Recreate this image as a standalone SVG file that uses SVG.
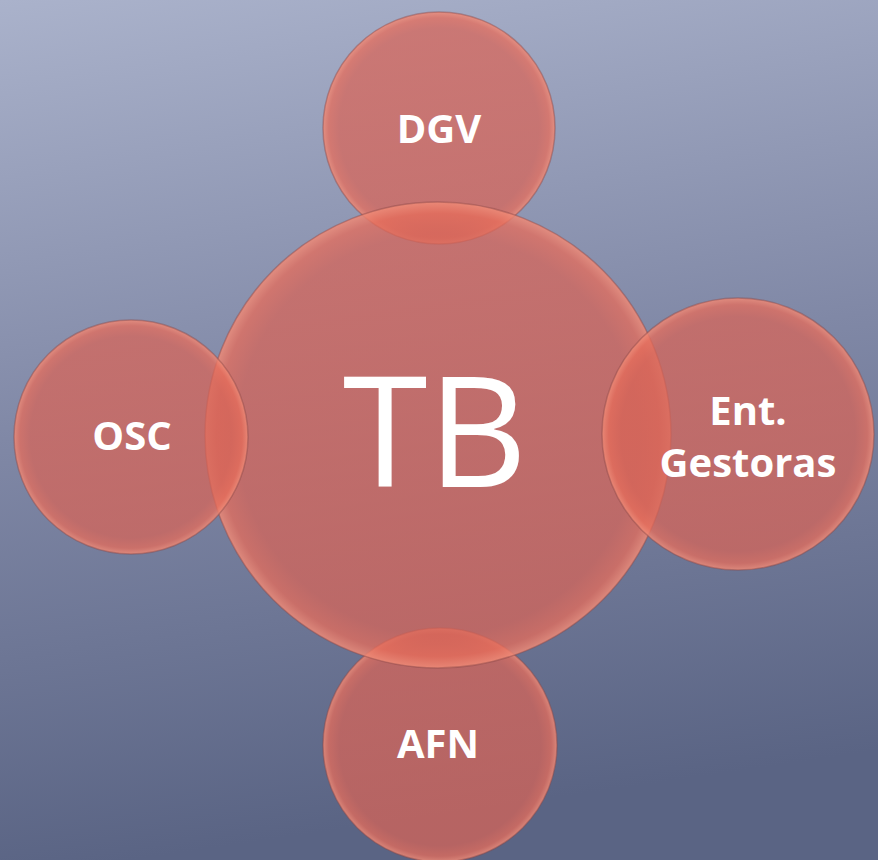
<svg xmlns="http://www.w3.org/2000/svg" width="878" height="860" viewBox="0 0 878 860">
<defs>
<linearGradient id="bg" x1="0" y1="0" x2="0.15" y2="1">
<stop offset="0" stop-color="#aab2cb"/>
<stop offset="0.5" stop-color="#8088a6"/>
<stop offset="1" stop-color="#5a6484"/>
</linearGradient>
<radialGradient id="ball" cx="0.5" cy="0.5" r="0.5">
<stop offset="0" stop-color="rgb(218,100,86)" stop-opacity="0.72"/>
<stop offset="0.86" stop-color="rgb(218,100,86)" stop-opacity="0.72"/>
<stop offset="0.95" stop-color="rgb(230,108,90)" stop-opacity="0.76"/>
<stop offset="1" stop-color="rgb(240,140,120)" stop-opacity="0.85"/>
</radialGradient>
<style>
.c{fill:url(#ball);stroke:rgba(140,70,70,0.45);stroke-width:1.5}
.l{font-family:"Open Sans","Noto Sans",sans-serif;font-weight:bold;fill:#fff;text-anchor:middle;font-size:40px}
.big{font-family:"Open Sans","Noto Sans",sans-serif;fill:#fff;text-anchor:middle;font-size:154px}
</style>
</defs>
<rect width="878" height="860" fill="url(#bg)"/>
<g id="connectors"></g>
<g id="node-dgv"><circle class="c" cx="439" cy="128" r="116"/><text class="l" x="439" y="143">DGV</text></g>
<g id="node-afn"><circle class="c" cx="440" cy="745" r="117"/><text class="l" x="438" y="758">AFN</text></g>
<g id="node-tb"><circle class="c" cx="438" cy="435" r="233"/><text class="big" x="435" y="487">TB</text></g>
<g id="node-osc"><circle class="c" cx="131" cy="437" r="117"/><text class="l" x="132" y="450">OSC</text></g>
<g id="node-ent"><circle class="c" cx="738" cy="434" r="136"/><text class="l" x="748" y="425">Ent.</text><text class="l" x="748" y="477">Gestoras</text></g>
</svg>
